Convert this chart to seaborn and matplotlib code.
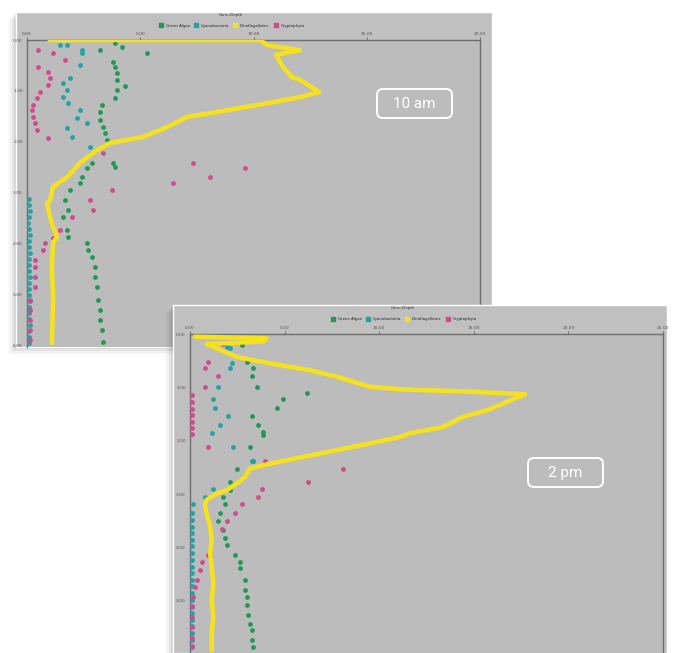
import numpy as np
import pandas as pd
import matplotlib
matplotlib.use("Agg")
import matplotlib.pyplot as plt
import seaborn as sns
from matplotlib.patches import Rectangle, FancyBboxPatch

sns.set_theme(style="white")
plt.rcParams['font.family'] = ['DejaVu Sans']

# ---- 10 am profile (concentration vs depth) ----
am_line_x = [1.0, 10.3, 10.6, 12.05, 11.0, 11.3, 11.7, 12.05, 12.9, 12.05, 10.6, 8.4, 7.06,
             6.18, 5.12, 3.66, 3.09, 2.34, 1.77, 1.15, 1.02, 0.88, 1.02, 1.15, 1.32, 1.15,
             1.1, 1.15, 1.1]
am_line_d = [0.0, 0.0, 0.1, 0.2, 0.29, 0.53, 0.73, 0.78, 1.02, 1.12, 1.24, 1.41, 1.51,
             1.71, 1.9, 2.02, 2.16, 2.41, 2.69, 2.88, 3.14, 3.2, 3.47, 3.67, 3.86, 3.98,
             4.45, 5.1, 5.94]

am_green_x = [3.89, 4.19, 3.22, 3.80, 3.89, 3.97, 3.97, 4.33, 3.97, 3.89, 3.31, 3.22, 3.22,
              3.36, 3.44, 3.53, 3.80, 3.89, 2.87, 2.65, 2.43, 2.34, 1.90, 1.68, 1.81, 1.59,
              1.77, 1.81, 2.65, 2.69, 2.87, 3.0, 3.0, 3.09, 3.13, 3.22, 3.22, 3.31, 3.36, 5.30]
am_green_d = [0.06, 0.14, 0.2, 0.43, 0.53, 0.65, 0.78, 0.9, 0.98, 1.14, 1.27, 1.41, 1.57,
              1.71, 1.82, 1.96, 2.41, 2.49, 2.41, 2.51, 2.69, 2.8, 2.94, 3.14, 3.33, 3.47,
              3.73, 3.86, 3.98, 4.12, 4.25, 4.45, 4.65, 4.84, 5.1, 5.29, 5.49, 5.69, 5.92, 0.25]

am_cyan_x = [1.46, 1.77, 2.43, 2.43, 2.34, 1.90, 1.59, 1.77, 1.59, 1.81, 2.34, 2.21, 2.65,
             1.77, 1.99, 2.78,
             0.10, 0.08, 0.12, 0.10, 0.06, 0.10, 0.12, 0.08, 0.10, 0.12, 0.10, 0.08, 0.10,
             0.12, 0.10, 0.08, 0.10, 0.12, 0.10, 0.08, 0.10, 0.12, 0.10, 0.08, 0.10]
am_cyan_d = [0.1, 0.1, 0.2, 0.25, 0.49, 0.75, 0.84, 0.98, 1.12, 1.24, 1.37, 1.53, 1.63,
             1.73, 1.9, 2.1,
             3.12, 3.24, 3.35, 3.47, 3.59, 3.71, 3.82, 3.94, 4.06, 4.18, 4.29, 4.41, 4.53,
             4.65, 4.76, 4.88, 5.0, 5.12, 5.24, 5.35, 5.47, 5.59, 5.71, 5.82, 5.94]

am_pink_x = [0.49, 1.15, 1.68, 0.49, 0.93, 1.02, 0.93, 0.57, 0.44, 0.26, 0.22, 0.26, 0.35,
             0.44, 0.93, 3.36, 7.33, 9.62, 8.08, 6.45, 3.75, 2.78, 2.91, 1.99, 1.46, 1.15,
             0.79, 0.71, 0.35, 0.35, 0.35, 0.35, 0.13, 0.13, 0.13, 0.13, 0.13]
am_pink_d = [0.2, 0.25, 0.39, 0.53, 0.63, 0.75, 0.88, 1.02, 1.14, 1.27, 1.37, 1.51, 1.63,
             1.76, 1.92, 2.22, 2.41, 2.51, 2.69, 2.8, 2.94, 3.14, 3.33, 3.47, 3.73, 3.88,
             3.98, 4.12, 4.31, 4.45, 4.65, 4.84, 5.1, 5.29, 5.49, 5.69, 5.88]

# ---- 2 pm profile ----
pm_line_x = [0.26, 4.05, 3.88, 0.88, 2.47, 4.23, 6.34, 7.75, 9.51, 11.28, 14.8, 17.7, 16.56,
             15.68, 14.45, 13.39, 11.63, 11.1, 9.51, 6.87, 4.23, 3.17, 2.91, 2.47, 1.94, 1.41,
             0.88, 0.79, 0.88, 1.06, 1.15, 1.06, 1.15, 1.23, 1.15, 1.23, 1.15, 1.15]
pm_line_d = [0.05, 0.08, 0.14, 0.19, 0.43, 0.55, 0.68, 0.8, 0.99, 1.04, 1.08, 1.13, 1.3,
             1.43, 1.55, 1.74, 1.86, 1.93, 2.05, 2.24, 2.43, 2.52, 2.68, 2.8, 2.93, 2.99,
             3.11, 3.21, 3.36, 3.61, 3.86, 4.11, 4.36, 4.68, 4.99, 5.3, 5.61, 5.93]

pm_green_x = [2.73, 3.0, 3.35, 3.26, 3.52, 6.17, 4.93, 4.58, 3.26, 3.61, 3.88, 3.88, 3.17,
              3.35, 2.47, 2.11, 2.11, 1.76, 1.85, 1.59, 1.5, 1.76, 1.85, 1.94, 2.38, 2.64,
              2.64, 2.91, 2.91, 3.0, 3.0, 3.08, 3.17, 3.26, 3.26, 3.35]
pm_green_d = [0.21, 0.52, 0.64, 0.79, 0.99, 1.11, 1.21, 1.38, 1.54, 1.71, 1.83, 1.89, 2.11,
              2.39, 2.54, 2.77, 2.93, 3.05, 3.19, 3.36, 3.5, 3.68, 3.83, 3.96, 4.14, 4.27,
              4.39, 4.61, 4.8, 4.93, 5.08, 5.27, 5.43, 5.55, 5.74, 5.86]

pm_cyan_x = [1.94, 2.11, 2.2, 2.11, 1.5, 1.23, 1.32, 2.03, 1.59, 1.15, 2.29, 3.26, 1.23,
             0.79, 0.18,
             0.10, 0.12, 0.08, 0.10, 0.12, 0.10, 0.08, 0.10, 0.12, 0.10, 0.08, 0.10, 0.12,
             0.10, 0.08, 0.10, 0.12, 0.10, 0.08, 0.10, 0.12]
pm_cyan_d = [0.24, 0.27, 0.55, 0.64, 0.99, 1.21, 1.39, 1.54, 1.71, 1.86, 2.11, 2.38, 2.91,
             3.05, 3.19,
             3.36, 3.48, 3.61, 3.73, 3.86, 3.98, 4.11, 4.23, 4.36, 4.48, 4.61, 4.73, 4.86,
             4.98, 5.11, 5.23, 5.36, 5.48, 5.61, 5.73, 5.86]

pm_pink_x = [1.76, 0.97, 0.79, 1.5, 0.79, 0.1, 0.12, 0.1, 0.12, 0.1, 0.12, 0.1, 0.97, 3.96,
             8.1, 6.25, 3.79, 3.61, 2.73, 2.38, 1.94, 1.67, 0.97, 0.62, 0.53, 0.35, 0.26,
             0.18, 0.1, 0.1, 0.1, 0.1, 0.1]
pm_pink_d = [0.18, 0.52, 0.64, 0.79, 1.0, 1.15, 1.27, 1.4, 1.52, 1.65, 1.77, 1.87, 2.11, 2.38,
             2.53, 2.77, 2.91, 3.05, 3.19, 3.36, 3.5, 3.66, 4.14, 4.27, 4.43, 4.61, 4.74,
             4.93, 5.1, 5.3, 5.5, 5.7, 5.85]

groups = ["Green Algae", "Cyanobacteria", "Dinoflagellates", "Cryptophyta"]
colors = {"green": "#1f9a52", "cyan": "#21a3a6", "yellow": "#f6e21c", "pink": "#d4488f"}
x_ticks_am = [0, 5, 10, 15, 20]
x_ticks_pm = [0, 5, 10, 15, 20, 25]
depth_ticks_am = [0, 1, 2, 3, 4, 5, 6]
depth_ticks_pm = [0, 1, 2, 3, 4, 5]

W, H = 676, 653
BG = "#bcbcbc"
fig = plt.figure(figsize=(W / 100, H / 100), dpi=100)
fig.patch.set_facecolor("white")


def frac(x0, y0, x1, y1):
    return [x0 / W, 1 - y1 / H, (x1 - x0) / W, (y1 - y0) / H]


def panel(frame, inner, ymax, xmax, xticks, yticks, data, label, label_box, z):
    # soft drop shadow toward the lower left
    x0, y0, x1, y1 = frame
    for i, a in enumerate([0.07, 0.05, 0.035, 0.02]):
        fig.patches.append(Rectangle(((x0 - 2 - 2 * i) / W, 1 - (y1 + 2 + 2 * i) / H),
                                     (x1 - x0) / W, (y1 - y0) / H,
                                     transform=fig.transFigure, facecolor="black",
                                     alpha=a, edgecolor="none", zorder=z - 0.5))
    fr = fig.add_axes(frac(*frame), zorder=z)
    fr.set_facecolor("#c0c0c0")
    fr.set_xticks([])
    fr.set_yticks([])
    for s in fr.spines.values():
        s.set_color("white")
        s.set_linewidth(1.0)

    ax = fig.add_axes(frac(*inner), zorder=z + 0.1)
    ax.set_facecolor(BG)
    lx, ld, gx, gd, cx, cd, px, pd_ = data
    sns.scatterplot(x=gx, y=gd, ax=ax, color=colors["green"], s=12, linewidth=0, zorder=3)
    sns.scatterplot(x=cx, y=cd, ax=ax, color=colors["cyan"], s=12, linewidth=0, zorder=3)
    sns.scatterplot(x=px, y=pd_, ax=ax, color=colors["pink"], s=12, linewidth=0, zorder=3)
    sns.lineplot(x=lx, y=ld, ax=ax, sort=False, estimator=None, color=colors["yellow"],
                 linewidth=3.2, zorder=4)
    ax.set_xlim(0, xmax)
    ax.set_ylim(ymax, 0)
    ax.xaxis.tick_top()
    ax.set_xticks(xticks)
    ax.set_xticklabels([f"{t:.2f}" for t in xticks], fontsize=3.2, color="#555555")
    ax.set_yticks(yticks)
    ax.set_yticklabels([f"{t:.2f}" for t in yticks], fontsize=3.2, color="#555555")
    ax.tick_params(length=2, width=0.6, color="#666666", pad=1)
    for side in ["left", "top", "right"]:
        ax.spines[side].set_color("#6e6e6e")
        ax.spines[side].set_linewidth(1.0)
    ax.spines["bottom"].set_visible(False)
    ax.set_xlabel("")
    ax.set_ylabel("")

    handles = [plt.Line2D([], [], marker="s", linestyle="", markersize=2.5, color=c)
               for c in [colors["green"], colors["cyan"], colors["yellow"], colors["pink"]]]
    ax.legend(handles, groups, ncol=4, fontsize=2.8, frameon=False,
              loc="lower center", bbox_to_anchor=(0.45, 1.035),
              handletextpad=0.2, columnspacing=0.6, borderaxespad=0)
    ax.text(0.45, 1.075, "Conc./Depth", transform=ax.transAxes, fontsize=2.8,
            ha="center", va="bottom", color="#333333")

    bx0, by0, bx1, by1 = label_box
    fig.patches.append(FancyBboxPatch((bx0 / W, 1 - by1 / H), (bx1 - bx0) / W, (by1 - by0) / H,
                                      boxstyle="round,pad=0,rounding_size=0.009",
                                      transform=fig.transFigure, facecolor="none",
                                      edgecolor="white", linewidth=1.4, zorder=z + 0.2))
    fig.text((bx0 + bx1) / 2 / W, 1 - (by0 + by1) / 2 / H, label, color="white",
             fontsize=11, ha="center", va="center", family="Roboto", zorder=z + 0.3)
    return ax


panel((16, 12, 492, 347), (27, 40, 480, 347), 6.02, 20, x_ticks_am, depth_ticks_am,
      (am_line_x, am_line_d, am_green_x, am_green_d, am_cyan_x, am_cyan_d, am_pink_x, am_pink_d),
      "10 am", (377, 89, 452, 118), 1)
panel((173, 305, 667, 653), (190, 334, 663, 653), 5.98, 25, x_ticks_pm, depth_ticks_pm,
      (pm_line_x, pm_line_d, pm_green_x, pm_green_d, pm_cyan_x, pm_cyan_d, pm_pink_x, pm_pink_d),
      "2 pm", (528, 458, 603, 487), 3)

fig.savefig("out.png", dpi=100, facecolor="white")
